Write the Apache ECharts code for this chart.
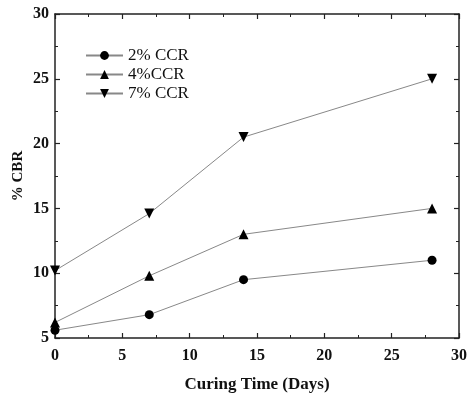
<!DOCTYPE html>
<html>
<head>
<meta charset="utf-8">
<script src="https://cdn.jsdelivr.net/npm/echarts@6/dist/echarts.min.js"></script>
<style>
  html, body { margin: 0; padding: 0; background: #fff; }
  #chart { width: 467px; height: 396px; }
</style>
</head>
<body>
<div id="chart"></div>
<script>
// curing time in days
const days = [0, 7, 14, 28]
// %CBR per CCR content
const ccr2 = [5.6, 6.8, 9.5, 11]
const ccr4 = [6.2, 9.8, 13, 15]
const ccr7 = [10.2, 14.6, 20.5, 25]
const seriesNames = ['2% CCR', '4%CCR', '7% CCR']

const font = '"Liberation Serif", "Times New Roman", serif'
const downTriangle = 'path://M0,0 L10,0 L5,9 Z'

function pairs(ys) {
  return days.map((d, i) => [d, ys[i]])
}

function lineSeries(name, ys, symbol, size) {
  return {
    name: name,
    type: 'line',
    data: pairs(ys),
    symbol: symbol,
    symbolSize: size,
    itemStyle: { color: '#000' },
    lineStyle: { color: '#888', width: 1 }
  }
}

const chart = echarts.init(document.getElementById('chart'))

const axisCommon = {
  type: 'value',
  axisLine: { show: true, onZero: false, lineStyle: { color: '#222', width: 1.5 } },
  axisTick: { show: true, inside: true, length: 5, lineStyle: { color: '#222', width: 1.2 } },
  minorTick: { show: true, splitNumber: 2, length: 3, lineStyle: { color: '#222' } },
  splitLine: { show: false }
}

const tickStyle = { fontFamily: font, fontSize: 16, fontWeight: 'bold', color: '#111' }

const option = {
  backgroundColor: '#fff',
  animation: false,
  grid: { left: 55, right: 8, top: 14, bottom: 58, outerBoundsMode: 'none' },
  legend: {
    orient: 'vertical',
    left: 80,
    top: 42,
    itemWidth: 37,
    itemHeight: 11,
    itemGap: 2,
    data: seriesNames,
    textStyle: { fontFamily: font, fontSize: 17, color: '#111' }
  },
  xAxis: [
    Object.assign({}, axisCommon, {
      min: 0, max: 30, interval: 5,
      position: 'bottom',
      name: 'Curing Time (Days)',
      nameLocation: 'middle',
      nameGap: 38,
      nameMoveOverlap: false,
      nameTextStyle: { fontFamily: font, fontSize: 17, fontWeight: 'bold', color: '#111' },
      axisLabel: Object.assign({ margin: 10 }, tickStyle)
    }),
    Object.assign({}, axisCommon, {
      min: 0, max: 30, interval: 5,
      position: 'top',
      axisLabel: { show: false }
    })
  ],
  yAxis: [
    Object.assign({}, axisCommon, {
      min: 5, max: 30, interval: 5,
      position: 'left',
      name: '% CBR',
      nameLocation: 'middle',
      nameGap: 29,
      nameMoveOverlap: false,
      nameTextStyle: { fontFamily: font, fontSize: 15, fontWeight: 'bold', color: '#111' },
      axisLabel: Object.assign({ margin: 6 }, tickStyle)
    }),
    Object.assign({}, axisCommon, {
      min: 5, max: 30, interval: 5,
      position: 'right',
      axisLabel: { show: false }
    })
  ],
  series: [
    lineSeries(seriesNames[0], ccr2, 'circle', 9),
    lineSeries(seriesNames[1], ccr4, 'triangle', 10),
    lineSeries(seriesNames[2], ccr7, downTriangle, 10)
  ]
}

chart.setOption(option)
</script>
</body>
</html>
